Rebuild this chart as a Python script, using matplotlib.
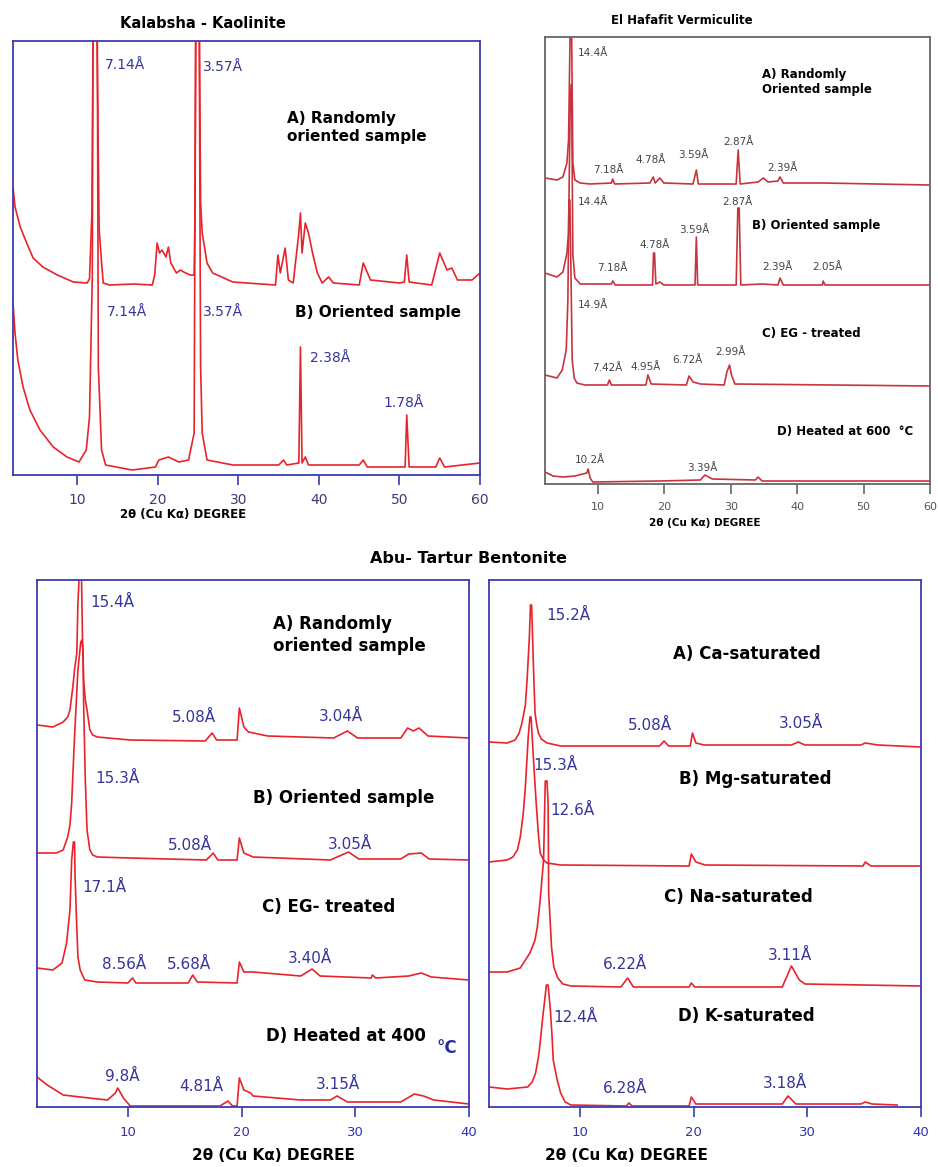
import matplotlib
matplotlib.use("Agg")
import matplotlib.pyplot as plt

W, H = 938, 1167

# ------------------------------------------------------------------
# DATA  (2θ in degrees, intensity in arbitrary counts)
# ------------------------------------------------------------------
# Kalabsha - Kaolinite
kaol_ticks = [10, 20, 30, 40, 50, 60]
kaol_A_2theta = [2.0, 2.25, 2.9, 3.7, 4.5, 5.7, 7.5, 9.5, 11.2, 11.5, 11.8, 12.0, 12.35, 12.7,
                 13.2, 14.0, 17.0, 19.3, 19.6, 19.9, 20.2, 20.5, 21.0, 21.3, 21.6, 22.3, 22.8,
                 23.2, 24.0, 24.5, 24.6, 24.75, 25.1, 25.3, 25.5, 26.1, 26.8, 29.3, 34.6, 34.9,
                 35.2, 35.8, 36.2, 36.8, 37.5, 37.7, 37.9, 38.3, 38.7, 39.2, 39.8, 40.4, 41.2,
                 41.8, 45.0, 45.5, 46.4, 50.0, 50.6, 50.9, 51.2, 54.0, 55.0, 55.9, 56.5, 57.2,
                 59.0, 60.0]
kaol_A_int = [288, 268, 248, 232, 217, 208, 200, 193, 192, 196, 262, 500, 500, 245,
              192, 190, 191, 190, 200, 232, 222, 225, 218, 228, 212, 202, 205,
              203, 200, 200, 258, 500, 500, 272, 242, 212, 202, 193, 190, 220,
              202, 227, 195, 192, 242, 262, 222, 252, 242, 222, 202, 192, 198,
              192, 190, 212, 195, 192, 193, 220, 193, 190, 222, 205, 207, 195,
              195, 202]
kaol_B_2theta = [2.0, 2.25, 2.6, 3.25, 4.1, 5.35, 7.0, 8.7, 10.2, 11.1, 11.5, 11.85, 11.95,
                 12.45, 12.6, 13.0, 13.5, 16.8, 19.7, 20.1, 21.3, 22.6, 23.8, 24.5, 24.7, 25.1,
                 25.3, 25.5, 26.1, 29.3, 35.0, 35.6, 36.0, 37.5, 37.7, 37.9, 38.3, 38.7, 45.0,
                 45.5, 46.0, 50.7, 50.9, 51.2, 54.5, 55.0, 55.6, 60.0]
kaol_B_int = [172, 142, 115, 88, 65, 45, 28, 18, 13, 25, 58, 200, 500,
              500, 108, 25, 10, 5, 8, 15, 18, 13, 15, 42, 500, 500,
              108, 42, 15, 10, 10, 15, 10, 12, 128, 12, 18, 10, 10,
              15, 8, 8, 60, 8, 8, 17, 8, 12]

# El Hafafit Vermiculite
verm_ticks = [10, 20, 30, 40, 50, 60]
verm_A_2theta = [2.0, 3.8, 4.7, 5.3, 5.55, 5.8, 6.0, 6.2, 6.5, 7.3, 8.8, 12.0, 12.2, 12.5, 17.8,
                 18.3, 18.6, 19.3, 19.9, 24.3, 24.8, 25.1, 30.8, 31.1, 31.4, 34.1, 34.9, 35.6,
                 37.1, 37.4, 37.9, 43.9, 60.0]
verm_A_int = [306, 304, 307, 321, 344, 460, 460, 321, 304, 301, 300, 301, 305, 300, 301,
              307, 301, 306, 301, 300, 314, 300, 300, 334, 300, 302, 306, 302,
              303, 307, 301, 301, 299]
verm_B_2theta = [2.0, 3.8, 4.7, 5.3, 5.55, 5.8, 6.0, 6.2, 6.5, 7.3, 12.0, 12.2, 12.6, 18.2,
                 18.35, 18.5, 18.7, 19.3, 19.9, 24.6, 24.8, 25.0, 30.8, 31.05, 31.25, 31.5,
                 34.7, 37.1, 37.4, 37.9, 43.8, 43.9, 44.2, 60.0]
verm_B_int = [211, 207, 212, 231, 251, 384, 400, 229, 206, 200, 200, 203, 199, 199,
              231, 231, 200, 202, 199, 199, 247, 199, 199, 276, 276, 199,
              200, 199, 206, 199, 199, 203, 199, 199]
verm_C_2theta = [2.0, 3.8, 4.6, 5.2, 5.45, 5.6, 5.75, 6.1, 6.4, 6.8, 8.0, 11.4, 11.7, 12.0,
                 17.2, 17.5, 18.0, 23.3, 23.7, 24.3, 25.4, 29.0, 29.4, 29.8, 30.1, 30.6, 60.0]
verm_C_int = [109, 106, 114, 134, 184, 284, 284, 124, 106, 101, 99, 99, 104, 99,
              99, 109, 100, 99, 108, 102, 100, 99, 112, 119, 109, 100, 98]
verm_D_2theta = [2.0, 3.2, 4.7, 6.5, 8.3, 8.5, 8.8, 9.2, 19.3, 25.4, 26.1, 27.2, 33.7, 34.1,
                 34.7, 60.0]
verm_D_int = [12, 8, 7, 8, 11, 15, 6, 2, 3, 4, 9, 5, 4, 7, 3, 3]

# Abu-Tartur Bentonite (left: A random, B oriented, C EG, D 400 °C)
bent_ticks = [10, 20, 30, 40]
bentL_A_2theta = [2.0, 3.4, 4.3, 4.7, 4.9, 5.15, 5.3, 5.5, 5.6, 5.75, 5.9, 6.0, 6.1, 6.25, 6.4,
                  6.65, 6.9, 7.3, 10.2, 16.8, 17.4, 17.8, 19.6, 19.8, 20.2, 20.6, 22.3, 28.1,
                  29.3, 30.2, 34.0, 34.6, 35.1, 35.6, 36.4, 40.0]
bentL_A_int = [382, 380, 385, 390, 397, 420, 437, 454, 504, 540, 540, 470, 427, 407, 397,
               377, 372, 370, 367, 366, 374, 367, 367, 399, 380, 375, 371, 369,
               376, 369, 369, 379, 376, 379, 371, 369]
bentL_B_2theta = [2.0, 3.7, 4.3, 4.7, 4.9, 5.05, 5.3, 5.6, 5.85, 5.95, 6.05, 6.1, 6.25, 6.4,
                  6.65, 6.9, 7.3, 10.2, 16.9, 17.5, 17.9, 19.6, 19.8, 20.2, 21.0, 27.8, 29.4,
                  30.3, 34.0, 34.7, 35.8, 36.5, 40.0]
bentL_B_int = [254, 254, 257, 270, 282, 304, 370, 437, 465, 467, 457, 404, 327, 277,
               257, 252, 250, 249, 247, 254, 247, 247, 269, 254, 250, 247, 255,
               248, 248, 253, 254, 248, 247]
bentL_C_2theta = [2.0, 3.4, 4.2, 4.6, 4.9, 5.05, 5.2, 5.3, 5.35, 5.5, 5.6, 5.8, 6.2, 7.3, 10.0,
                  10.4, 10.7, 15.3, 15.7, 16.1, 19.6, 19.8, 20.2, 21.0, 25.2, 26.2, 26.9, 31.4,
                  31.5, 31.8, 34.7, 35.8, 36.7, 40.0]
bentL_C_int = [139, 137, 144, 164, 197, 247, 265, 265, 230, 180, 150, 137, 127, 125, 124,
               129, 124, 124, 132, 125, 124, 145, 135, 135, 131, 138, 131, 129,
               132, 129, 131, 134, 130, 127]
bentL_D_2theta = [2.0, 2.9, 3.6, 4.3, 5.8, 8.2, 8.9, 9.1, 9.6, 10.2, 18.1, 18.8, 19.2, 19.6,
                  19.8, 20.2, 20.8, 21.0, 25.2, 27.8, 28.4, 29.3, 34.0, 35.2, 36.0, 36.9, 40.0]
bentL_D_int = [30, 22, 17, 12, 10, 7, 14, 19, 9, 1, 1, 6, 1, 1,
               29, 17, 14, 11, 7, 7, 11, 5, 5, 13, 11, 7, 3]

# Abu-Tartur Bentonite (right: Ca, Mg, Na, K saturated)
bentR_A_2theta = [2.0, 3.6, 4.3, 4.65, 4.9, 5.2, 5.35, 5.55, 5.65, 5.75, 5.9, 6.05, 6.2, 6.35,
                  6.6, 7.1, 8.3, 17.0, 17.4, 17.8, 19.7, 19.9, 20.2, 20.9, 28.6, 29.2, 29.8,
                  34.7, 35.1, 36.2, 40.0]
bentR_A_int = [365, 364, 367, 374, 384, 402, 427, 470, 502, 502, 444, 394, 382, 374,
               368, 364, 361, 361, 366, 361, 361, 374, 364, 362, 362, 365, 362,
               362, 364, 362, 360]
bentR_B_2theta = [2.0, 3.6, 4.1, 4.5, 4.75, 5.0, 5.2, 5.45, 5.6, 5.7, 5.9, 6.15, 6.35, 6.5,
                  6.8, 7.1, 8.3, 19.6, 19.8, 20.2, 21.0, 34.9, 35.1, 35.6, 40.0]
bentR_B_int = [245, 247, 250, 257, 270, 292, 320, 370, 390, 390, 350, 304, 272, 254,
               247, 244, 242, 241, 253, 245, 242, 241, 245, 241, 241]
bentR_C_2theta = [2.0, 3.6, 4.75, 5.6, 6.05, 6.25, 6.5, 6.8, 6.95, 7.1, 7.2, 7.25, 7.5, 7.7,
                  8.05, 8.5, 9.2, 13.6, 14.2, 14.7, 19.6, 19.8, 20.1, 27.8, 28.6, 29.3, 29.8,
                  34.9, 40.0]
bentR_C_int = [135, 135, 139, 154, 167, 180, 207, 247, 326, 326, 304, 214, 160, 140,
               129, 123, 121, 120, 129, 120, 120, 124, 120, 120, 141, 127, 123,
               122, 121]
bentR_D_2theta = [2.0, 3.6, 5.4, 5.8, 6.1, 6.35, 6.5, 6.7, 6.9, 7.05, 7.2, 7.4, 7.55, 7.65,
                  8.0, 8.3, 8.7, 9.2, 14.1, 14.3, 14.6, 19.6, 19.8, 20.2, 20.7, 27.8, 28.3,
                  29.0, 34.7, 35.1, 35.7, 37.9]
bentR_D_int = [20, 18, 20, 25, 34, 50, 64, 87, 107, 122, 122, 97, 70, 47,
               27, 14, 5, 2, 1, 4, 1, 1, 10, 3, 3, 3, 11,
               3, 3, 5, 3, 2]

# ------------------------------------------------------------------
# ANNOTATIONS (text, 2θ, intensity)
# ------------------------------------------------------------------
kaol_peaks = [("7.14Å", 13.4, 410), ("3.57Å", 25.6, 408), ("7.14Å", 13.7, 163),
              ("3.57Å", 25.6, 163), ("2.38Å", 38.9, 117), ("1.78Å", 48.0, 72)]
kaol_names = [("A) Randomly\noriented sample", 36.0, 347), ("B) Oriented sample", 37.0, 163)]

verm_peaks = [("14.4Å", 7.0, 431), ("7.18Å", 9.2, 314), ("4.78Å", 15.6, 324), ("3.59Å", 22.1, 329),
              ("2.87Å", 28.8, 342), ("2.39Å", 35.5, 316),
              ("14.4Å", 7.0, 282), ("2.87Å", 28.7, 282), ("3.59Å", 22.2, 254), ("4.78Å", 16.3, 239),
              ("7.18Å", 9.8, 216), ("2.39Å", 34.7, 217), ("2.05Å", 42.3, 217),
              ("14.9Å", 7.0, 179), ("7.42Å", 9.1, 116), ("4.95Å", 14.8, 117), ("6.72Å", 21.2, 124),
              ("2.99Å", 27.6, 132), ("10.2Å", 6.5, 24), ("3.39Å", 23.4, 16)]
verm_names = [("A) Randomly\nOriented sample", 34.7, 402), ("B) Oriented sample", 33.2, 259),
              ("C) EG - treated", 34.7, 151), ("D) Heated at 600  °C", 37.0, 52)]

bentL_peaks = [("15.4Å", 6.65, 505), ("5.08Å", 13.9, 390), ("3.04Å", 26.8, 391),
               ("15.3Å", 7.1, 329), ("5.08Å", 13.5, 262), ("3.05Å", 27.6, 263),
               ("17.1Å", 6.0, 220), ("8.56Å", 7.7, 143), ("5.68Å", 13.4, 143), ("3.40Å", 24.1, 149),
               ("9.8Å", 8.0, 31), ("4.81Å", 14.5, 21), ("3.15Å", 26.5, 23)]
bentL_names = [("A) Randomly\noriented sample", 22.8, 472), ("B) Oriented sample", 21.0, 309),
               ("C) EG- treated", 21.8, 200), ("D) Heated at 400", 22.1, 71)]

bentR_peaks = [("15.2Å", 7.0, 492), ("5.08Å", 14.2, 382), ("3.05Å", 27.5, 384),
               ("15.3Å", 5.9, 342), ("12.6Å", 7.4, 297), ("6.22Å", 12.0, 143), ("3.11Å", 26.5, 152),
               ("12.4Å", 7.7, 90), ("6.28Å", 12.0, 19), ("3.18Å", 26.1, 24)]
bentR_names = [("A) Ca-saturated", 18.2, 453), ("B) Mg-saturated", 18.7, 328),
               ("C) Na-saturated", 17.4, 210), ("D) K-saturated", 18.6, 91)]

# ------------------------------------------------------------------
plt.rcParams["font.family"] = ["DejaVu Sans"]
fig = plt.figure(figsize=(W / 100, H / 100), dpi=100)
fig.patch.set_facecolor("white")


def make_axes(l, t, r, b):
    return fig.add_axes([l / W, 1 - b / H, (r - l) / W, (b - t) / H])


def style(ax, xmax, ymax, ticks, frame_col, tick_col, tick_fs, pad):
    ax.set_xlim(2, xmax)
    ax.set_ylim(0, ymax)
    ax.set_yticks([])
    ax.set_xticks(ticks)
    ax.set_xticklabels([str(t) for t in ticks])
    ax.tick_params(axis="x", direction="out", length=7, width=1.2, color=frame_col,
                   labelcolor=tick_col, labelsize=tick_fs, pad=pad)
    for s in ax.spines.values():
        s.set_color(frame_col)
        s.set_linewidth(1.3)


def ftext(px, py, s, **kw):
    fig.text(px / W, 1 - py / H, s, **kw)


RED = "#e8232b"
BLUE_TXT = "#35359a"
FRAME_BLUE = "#3c3cae"

# ---------------- Panel 1 : Kaolinite ----------------
ax1 = make_axes(13, 41, 480, 475)
style(ax1, 60, 434, kaol_ticks, FRAME_BLUE, "#3a3a7a", 10, 6)
ax1.plot(kaol_A_2theta, kaol_A_int, color=RED, lw=1.2)
ax1.plot(kaol_B_2theta, kaol_B_int, color=RED, lw=1.2)
for s, x, y in kaol_peaks:
    ax1.text(x, y, s, color=BLUE_TXT, fontsize=10, ha="left", va="center")
for s, x, y in kaol_names:
    ax1.text(x, y, s, color="black", fontsize=11, fontweight="bold", ha="left", va="center",
             linespacing=1.25)
ftext(203, 23, "Kalabsha - Kaolinite", fontsize=10.5, fontweight="bold", ha="center", va="center")
ftext(183, 514, "2θ (Cu Kα) DEGREE", fontsize=8.5, fontweight="bold", ha="center", va="center")

# ---------------- Panel 2 : Vermiculite ----------------
VRED = "#c8343e"
ax2 = make_axes(545, 37, 930, 484)
style(ax2, 60, 447, verm_ticks, "#666666", "#555555", 8, 6)
for xs, ys in [(verm_A_2theta, verm_A_int), (verm_B_2theta, verm_B_int),
               (verm_C_2theta, verm_C_int), (verm_D_2theta, verm_D_int)]:
    ax2.plot(xs, ys, color=VRED, lw=1.2)
for s, x, y in verm_peaks:
    ax2.text(x, y, s, color="#444444", fontsize=7.5, ha="left", va="center")
for s, x, y in verm_names:
    ax2.text(x, y, s, color="black", fontsize=8.5, fontweight="bold", ha="left", va="center",
             linespacing=1.25)
ftext(682, 20, "El Hafafit Vermiculite", fontsize=8.5, fontweight="bold", ha="center", va="center")
ftext(705, 523, "2θ (Cu Kα) DEGREE", fontsize=7.5, fontweight="bold", ha="center", va="center")

# ---------------- Panel 3 : Bentonite left ----------------
ax3 = make_axes(37, 580, 469, 1107)
style(ax3, 40, 527, bent_ticks, FRAME_BLUE, "#3333aa", 9.5, 7)
for xs, ys in [(bentL_A_2theta, bentL_A_int), (bentL_B_2theta, bentL_B_int),
               (bentL_C_2theta, bentL_C_int), (bentL_D_2theta, bentL_D_int)]:
    ax3.plot(xs, ys, color=RED, lw=1.2)
for s, x, y in bentL_peaks:
    ax3.text(x, y, s, color=BLUE_TXT, fontsize=11, ha="left", va="center")
for s, x, y in bentL_names:
    ax3.text(x, y, s, color="black", fontsize=12, fontweight="bold", ha="left", va="center",
             linespacing=1.3)
ax3.text(37.1, 59, "°C", color="#2a2aa0", fontsize=12, fontweight="bold", ha="left", va="center")
ftext(273, 1155, "2θ (Cu Kα) DEGREE", fontsize=11, fontweight="bold", ha="center", va="center")

# ---------------- Panel 4 : Bentonite right ----------------
ax4 = make_axes(489, 580, 921, 1107)
style(ax4, 40, 527, bent_ticks, FRAME_BLUE, "#3333aa", 9.5, 7)
for xs, ys in [(bentR_A_2theta, bentR_A_int), (bentR_B_2theta, bentR_B_int),
               (bentR_C_2theta, bentR_C_int), (bentR_D_2theta, bentR_D_int)]:
    ax4.plot(xs, ys, color=RED, lw=1.2)
for s, x, y in bentR_peaks:
    ax4.text(x, y, s, color=BLUE_TXT, fontsize=11, ha="left", va="center")
for s, x, y in bentR_names:
    ax4.text(x, y, s, color="black", fontsize=12, fontweight="bold", ha="left", va="center")
ftext(626, 1155, "2θ (Cu Kα) DEGREE", fontsize=11, fontweight="bold", ha="center", va="center")

ftext(468, 558, "Abu- Tartur Bentonite", fontsize=11.5, fontweight="bold", ha="center", va="center")

fig.savefig("out.png", dpi=100)
